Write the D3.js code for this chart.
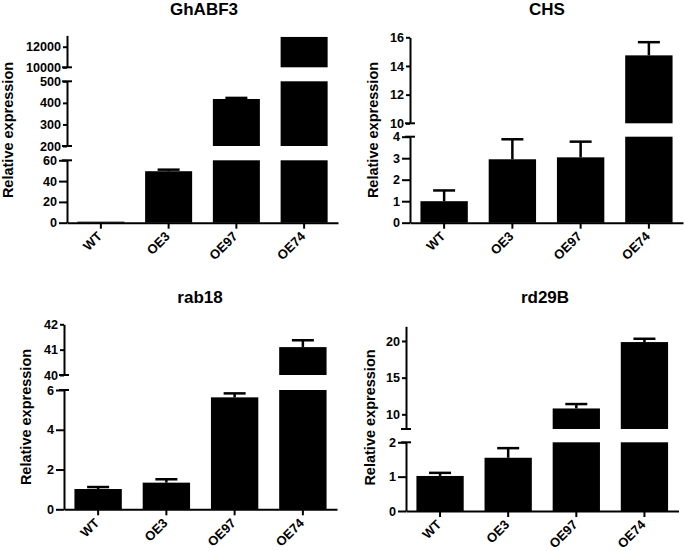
<!DOCTYPE html>
<html>
<head>
<meta charset="utf-8">
<script src="https://cdn.jsdelivr.net/npm/d3@7/dist/d3.min.js"></script>
<style>
  html, body { margin: 0; padding: 0; background: #fff; }
  svg { display: block; font-family: "Liberation Sans", Arial, sans-serif; }
</style>
</head>
<body>
<svg id="chart" width="685" height="551"></svg>
<script>
// ---------------- data ----------------
const categories = ["WT", "OE3", "OE97", "OE74"];

const ghabf3Values = [1, 49.5, 418, 12950];
const ghabf3Errors = [0, 1.5, 5, 0];
const chsValues = [1.0, 2.95, 3.04, 14.74];
const chsErrors = [0.5, 0.93, 0.73, 0.92];
const rab18Values = [1.02, 1.34, 5.63, 41.1];
const rab18Errors = [0.1, 0.17, 0.2, 0.27];
const rd29bValues = [1.02, 1.55, 10.8, 19.85];
const rd29bErrors = [0.09, 0.28, 0.6, 0.45];

// axis segments (broken y axes): domain + tick labels
const ghabf3Segments = [[0, 60], [200, 500], [10000, 13100]];
const ghabf3Ticks = [[0, 20, 40, 60], [200, 300, 400, 500], [10000, 12000]];
const chsSegments = [[0, 4], [10, 16]];
const chsTicks = [[0, 1, 2, 3, 4], [10, 12, 14, 16]];
const rab18Segments = [[0, 6], [40, 42]];
const rab18Ticks = [[0, 2, 4, 6], [40, 41, 42]];
const rd29bSegments = [[0, 2], [8, 22]];
const rd29bTicks = [[0, 1, 2], [10, 15, 20]];

const titles = ["GhABF3", "CHS", "rab18", "rd29B"];
const yLabel = "Relative expression";

// ---------------- layout ----------------
const panels = [
  { title: titles[0], values: ghabf3Values, errors: ghabf3Errors, segs: ghabf3Segments, ticks: ghabf3Ticks,
    axisX: 67, xEnd: 338, titleX: 204, titleY: 15, labelX: 12.5, labelY: 130,
    segY: [[222.7, 160.3], [146, 81.3], [67.3, 35.4]] },
  { title: titles[1], values: chsValues, errors: chsErrors, segs: chsSegments, ticks: chsTicks,
    axisX: 410, xEnd: 683, titleX: 547, titleY: 15, labelX: 377.5, labelY: 130,
    segY: [[222.7, 136.7], [123.3, 37.3]] },
  { title: titles[2], values: rab18Values, errors: rab18Errors, segs: rab18Segments, ticks: rab18Ticks,
    axisX: 64, xEnd: 337, titleX: 200, titleY: 303, labelX: 30.5, labelY: 417,
    segY: [[509.3, 390], [375, 324.3]] },
  { title: titles[3], values: rd29bValues, errors: rd29bErrors, segs: rd29bSegments, ticks: rd29bTicks,
    axisX: 406, xEnd: 678.5, titleX: 545, titleY: 303, labelX: 374.5, labelY: 417.5,
    segY: [[511, 442.3], [429, 326.3]] }
];

const svg = d3.select("#chart");

panels.forEach(p => {
  const g = svg.append("g");

  const x = d3.scaleBand().domain(categories).range([p.axisX, p.xEnd])
    .paddingInner(0.306).paddingOuter(0.153);

  const scales = p.segs.map((d, i) => d3.scaleLinear().domain(d).range(p.segY[i]));

  // bars, split across segments
  p.segs.forEach((seg, si) => {
    const y = scales[si];
    const lo = seg[0];
    g.append("g").selectAll("rect")
      .data(p.values.map((v, i) => ({ v, c: categories[i] })).filter(d => d.v > lo))
      .join("rect")
      .attr("x", d => x(d.c))
      .attr("width", x.bandwidth())
      .attr("y", d => y(Math.min(d.v, seg[1])))
      .attr("height", d => y(lo) - y(Math.min(d.v, seg[1])))
      .attr("fill", "#000");
  });

  // error bars (above only)
  p.values.forEach((v, i) => {
    const e = p.errors[i];
    if (!e) return;
    const si = p.segs.findIndex(s => v >= s[0] && v <= s[1]);
    const y = scales[si];
    const cx = x(categories[i]) + x.bandwidth() / 2;
    g.append("line").attr("x1", cx).attr("x2", cx)
      .attr("y1", y(v)).attr("y2", y(v + e))
      .attr("stroke", "#000").attr("stroke-width", 2.5);
    g.append("line").attr("x1", cx - 11).attr("x2", cx + 11)
      .attr("y1", y(v + e)).attr("y2", y(v + e))
      .attr("stroke", "#000").attr("stroke-width", 2.5);
  });

  // y axis segments
  p.segs.forEach((seg, si) => {
    const y = scales[si];
    const ax = g.append("g")
      .attr("transform", `translate(${p.axisX},0)`)
      .call(d3.axisLeft(y).tickValues(p.ticks[si]).tickSize(si === 0 ? 8 : 4)
        .tickSizeOuter(0).tickPadding(2).tickFormat(d3.format("d")));
    ax.select(".domain").attr("stroke", "#000").attr("stroke-width", 2);
    ax.selectAll(".tick line").attr("stroke", "#000").attr("stroke-width", 2);
    ax.selectAll(".tick text")
      .attr("font-family", "'Liberation Sans', Arial, sans-serif")
      .attr("font-size", 12.6).attr("font-weight", "bold").attr("fill", "#000");
    // break caps
    const caps = [];
    if (si < p.segs.length - 1) caps.push(seg[1]);
    if (si > 0) caps.push(seg[0]);
    caps.forEach(c => {
      ax.append("line").attr("x1", -5).attr("x2", 5)
        .attr("y1", y(c)).attr("y2", y(c))
        .attr("stroke", "#000").attr("stroke-width", 2);
    });
  });

  // x axis
  const y0 = scales[0](0);
  const xa = g.append("g").attr("transform", `translate(0,${y0})`)
    .call(d3.axisBottom(x).tickSize(6).tickSizeOuter(0));
  xa.select(".domain").attr("stroke", "#000").attr("stroke-width", 2);
  xa.selectAll(".tick line").attr("stroke", "#000").attr("stroke-width", 2);
  xa.selectAll(".tick text")
    .attr("font-family", "'Liberation Sans', Arial, sans-serif")
    .attr("font-size", 13).attr("font-weight", "bold").attr("fill", "#000")
    .attr("x", 0).attr("y", 0).attr("dy", null)
    .attr("text-anchor", "end")
    .attr("transform", "translate(2,14.5) rotate(-45)");

  // title
  g.append("text").attr("x", p.titleX).attr("y", p.titleY)
    .attr("text-anchor", "middle").attr("font-size", 17).attr("font-weight", "bold")
    .text(p.title);

  // y label
  g.append("text")
    .attr("transform", `translate(${p.labelX},${p.labelY}) rotate(-90)`)
    .attr("text-anchor", "middle").attr("font-size", 14.5).attr("font-weight", "bold")
    .text(yLabel);
});
</script>
</body>
</html>
